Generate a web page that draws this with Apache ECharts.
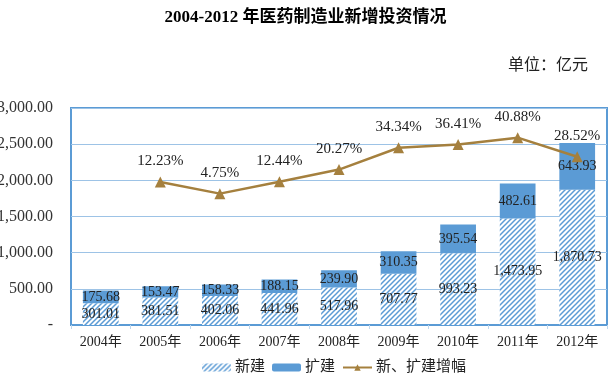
<!DOCTYPE html>
<html><head><meta charset="utf-8">
<script src="https://cdn.jsdelivr.net/npm/echarts@6/dist/echarts.min.js"></script>
<style>html,body{margin:0;padding:0;background:#fff}#c{width:611px;height:383px}</style>
</head><body><div id="c"></div>
<script>
const categories = ['2004年','2005年','2006年','2007年','2008年','2009年','2010年','2011年','2012年'];
const newBuild = [301.01,381.51,402.06,441.96,517.96,707.77,993.23,1473.95,1870.73];
const expansion = [175.68,153.47,158.33,188.15,239.90,310.35,395.54,482.61,643.93];
const growth = ['-',12.23,4.75,12.44,20.27,34.34,36.41,40.88,28.52];

const FONT = '"Liberation Serif", "Noto Sans CJK SC", serif';
const BLUE = '#5B9BD5';

function stripes(){
  const c = document.createElement('canvas');
  const s = 5; c.width = s; c.height = s;
  const g = c.getContext('2d');
  g.fillStyle = '#fff'; g.fillRect(0,0,s,s);
  g.strokeStyle = BLUE; g.lineWidth = 1.5;
  g.beginPath();
  g.moveTo(-1, s+1); g.lineTo(s+1, -1);
  g.moveTo(-1, 1); g.lineTo(1, -1);
  g.moveTo(s-1, s+1); g.lineTo(s+1, s-1);
  g.stroke();
  return c;
}
const pat = {image: stripes(), repeat: 'repeat'};

const chart = echarts.init(document.getElementById('c'), null, {renderer:'canvas'});
chart.setOption({
  animation:false,
  textStyle:{fontFamily:FONT},
  title:[
    {text:'2004-2012 年医药制造业新增投资情况', left:'center', top:4,
     textStyle:{fontFamily:FONT, fontSize:17, fontWeight:'bold', color:'#000'}},
    {text:'单位：亿元', right:18, top:53,
     textStyle:{fontFamily:FONT, fontSize:16, fontWeight:'normal', color:'#222'}}
  ],
  legend:{
    bottom:3, left:197, itemWidth:29, itemHeight:8, itemGap:7,
    textStyle:{fontFamily:FONT, fontSize:15, color:'#222', padding:[0,0,0,-1]},
    data:['新建','扩建','新、扩建增幅']
  },
  grid:{left:71, right:4, top:108, bottom:58, containLabel:false, outerBoundsMode:'none',
        show:true, borderColor:BLUE, borderWidth:2, backgroundColor:'#fff'},
  xAxis:{
    type:'category', data:categories,
    axisLine:{lineStyle:{color:BLUE, width:2}},
    axisTick:{show:true, length:4, lineStyle:{color:'#BDD7EE'}},
    axisLabel:{fontFamily:FONT, fontSize:14, color:'#222', margin:10}
  },
  yAxis:[
    {type:'value', min:0, max:3000, interval:500,
     axisLine:{show:false}, axisTick:{show:false},
     splitLine:{lineStyle:{color:'#9DC3E6', width:1}},
     axisLabel:{fontFamily:FONT, fontSize:16, color:'#333', margin:18,
       formatter:v => v===0 ? '-' : v.toLocaleString('en-US',{minimumFractionDigits:2, maximumFractionDigits:2})}},
    {type:'value', min:-80, max:60, show:false, splitLine:{show:false}}
  ],
  series:[
    {name:'新建', type:'bar', stack:'a', data:newBuild, barWidth:'60%',
     itemStyle:{color:pat},
     label:{show:true, position:'inside', fontFamily:FONT, fontSize:14, color:'#222',
       formatter:p => p.value.toLocaleString('en-US',{minimumFractionDigits:2})}},
    {name:'扩建', type:'bar', stack:'a', data:expansion, barWidth:'60%',
     itemStyle:{color:BLUE},
     label:{show:true, position:'inside', fontFamily:FONT, fontSize:14, color:'#222',
       formatter:p => p.value.toFixed(2)}},
    {name:'新、扩建增幅', type:'line', yAxisIndex:1, data:growth,
     symbol:'triangle', symbolSize:11,
     lineStyle:{color:'#A5803E', width:2.5}, itemStyle:{color:'#A5803E'},
     label:{show:true, position:'top', distance:8, fontFamily:FONT, fontSize:15, color:'#222',
       formatter:p => p.value.toFixed(2)+'%'}}
  ]
});
</script></body></html>
